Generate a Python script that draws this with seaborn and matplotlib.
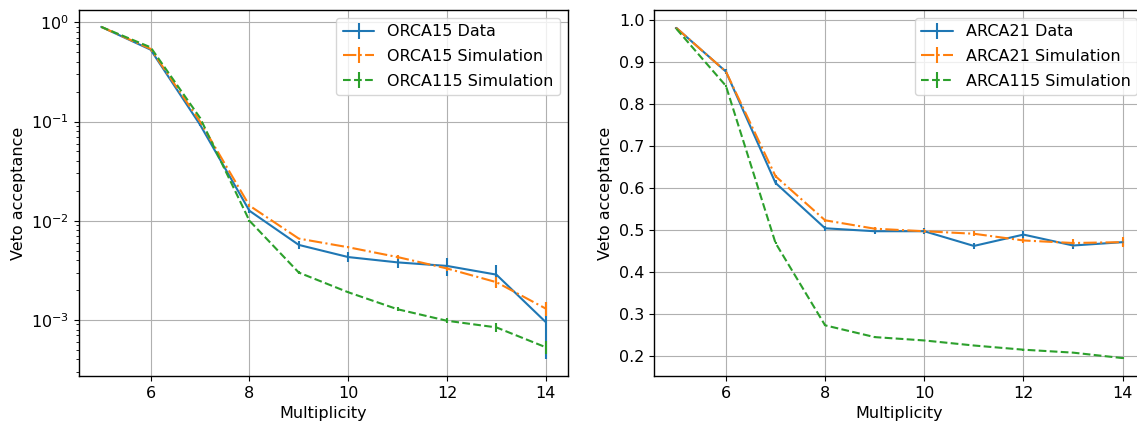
import numpy as np
import seaborn as sns
import matplotlib.pyplot as plt

# multiplicity bins
multiplicity = [5, 6, 7, 8, 9, 10, 11, 12, 13, 14]

# ORCA (left panel, log scale)
orca15_data = [0.90, 0.53, 0.093, 0.0126, 0.0057, 0.0043, 0.0038, 0.0035, 0.00286, 0.00095]
orca15_data_err = [0.005, 0.01, 0.003, 0.0006, 0.0005, 0.0005, 0.0005, 0.0007, 0.0007, 0.00055]
orca15_sim = [0.90, 0.54, 0.10, 0.0142, 0.0066, 0.0054, 0.0043, 0.0033, 0.0024, 0.0013]
orca15_sim_err = [0.002, 0.004, 0.002, 0.0004, 0.0001, 0.0001, 0.0002, 0.0002, 0.0003, 0.0002]
orca115_sim = [0.90, 0.56, 0.109, 0.010, 0.0030, 0.0019, 0.00128, 0.00098, 0.00084, 0.00053]
orca115_sim_err = [0.001, 0.002, 0.001, 0.0002, 0.0001, 0.00005, 0.00006, 0.00006, 0.00008, 0.00008]

# ARCA (right panel, linear scale)
arca21_data = [0.981, 0.877, 0.612, 0.504, 0.497, 0.497, 0.462, 0.489, 0.463, 0.471]
arca21_data_err = [0.003, 0.005, 0.006, 0.006, 0.007, 0.007, 0.007, 0.008, 0.008, 0.008]
arca21_sim = [0.981, 0.877, 0.628, 0.523, 0.503, 0.497, 0.491, 0.475, 0.469, 0.471]
arca21_sim_err = [0.002, 0.003, 0.004, 0.004, 0.005, 0.005, 0.006, 0.007, 0.009, 0.012]
arca115_sim = [0.979, 0.843, 0.469, 0.273, 0.245, 0.237, 0.225, 0.215, 0.208, 0.195]
arca115_sim_err = [0.001, 0.002, 0.002, 0.002, 0.002, 0.002, 0.002, 0.002, 0.002, 0.003]

sns.set_style("ticks", {"axes.grid": True, "grid.color": "#b0b0b0", "grid.linestyle": "-",
                        "axes.edgecolor": "black", "text.color": "black", "axes.labelcolor": "black",
                        "xtick.color": "black", "ytick.color": "black",
                        "xtick.direction": "out", "ytick.direction": "out"})
plt.rcParams['font.family'] = ['DejaVu Sans']
plt.rcParams['font.size'] = 11.5
plt.rcParams['xtick.labelsize'] = 11.5
plt.rcParams['ytick.labelsize'] = 11.5
plt.rcParams['axes.labelsize'] = 11.5
plt.rcParams['legend.fontsize'] = 11.5
plt.rcParams['grid.linewidth'] = 0.8
plt.rcParams['axes.linewidth'] = 1.0

colors = sns.color_palette("tab10")

fig = plt.figure(figsize=(11.37, 4.21), dpi=100)
ax1 = fig.add_axes([79 / 1137, 45 / 421, 489 / 1137, 366 / 421])
ax2 = fig.add_axes([654 / 1137, 45 / 421, 491 / 1137, 366 / 421])


def draw_panel(ax, series):
    for (y, err, label, ls), c in zip(series, colors):
        ax.errorbar(multiplicity, y, yerr=err, label=label, color=c, linestyle=ls, linewidth=1.5)
    ax.set_xlabel('Multiplicity', labelpad=4)
    ax.set_ylabel('Veto acceptance')
    ax.set_xticks([6, 8, 10, 12, 14])
    ax.legend(loc='upper right', fancybox=True, framealpha=0.8, labelspacing=0.6)


# Left: ORCA on log scale
draw_panel(ax1, [
    (orca15_data, orca15_data_err, 'ORCA15 Data', '-'),
    (orca15_sim, orca15_sim_err, 'ORCA15 Simulation', '-.'),
    (orca115_sim, orca115_sim_err, 'ORCA115 Simulation', '--'),
])
ax1.set_yscale('log')

# Right: ARCA on linear scale
draw_panel(ax2, [
    (arca21_data, arca21_data_err, 'ARCA21 Data', '-'),
    (arca21_sim, arca21_sim_err, 'ARCA21 Simulation', '-.'),
    (arca115_sim, arca115_sim_err, 'ARCA115 Simulation', '--'),
])

fig.savefig('out.png', dpi=100)
